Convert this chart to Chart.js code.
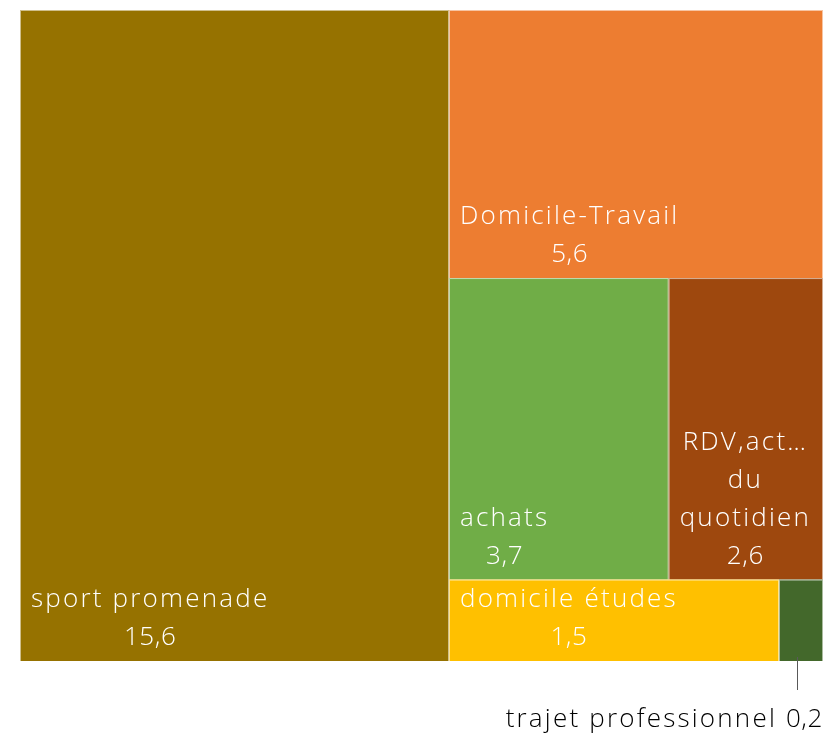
<!DOCTYPE html>
<html>
<head>
<meta charset="utf-8">
<script src="https://cdn.jsdelivr.net/npm/chart.js@4.4.1/dist/chart.umd.min.js"></script>
<style>
  html, body { margin: 0; padding: 0; background: #fff; }
  #wrap { width: 823px; height: 734px; }
</style>
</head>
<body>
<div id="wrap"><canvas id="tree"></canvas></div>
<script>
// motifs de déplacement et leur poids
const categories = ['sport promenade', 'Domicile-Travail', 'achats', 'RDV,activités du quotidien', 'domicile études', 'trajet professionnel'];
const values = [15.6, 5.6, 3.7, 2.6, 1.5, 0.2];
const colors = ['#967200', '#ED7D31', '#70AD47', '#9E480E', '#FFC000', '#43682B'];

const FONT = '300 26px "Open Sans"';
const NAME_SPACING = '2.2px';
const VALUE_SPACING = '0.6px';
const LINE_H = 38;
const PAD = 11;

// squarified treemap, dans un rectangle W x H
function squarify(vals, W, H) {
  const total = vals.reduce((a, b) => a + b, 0);
  const areas = vals.map(v => v / total * W * H);
  const out = [];
  let x = 0, y = 0, w = W, h = H, i = 0;
  while (i < areas.length) {
    const side = Math.min(w, h);
    const worst = r => {
      const s = r.reduce((a, b) => a + b, 0);
      return Math.max(side * side * Math.max(...r) / (s * s), s * s / (side * side * Math.min(...r)));
    };
    let row = [areas[i]], j = i + 1;
    while (j < areas.length && worst(row.concat(areas[j])) <= worst(row)) { row.push(areas[j]); j++; }
    const s = row.reduce((a, b) => a + b, 0);
    if (w >= h) {
      const cw = s / h; let cy = y;
      row.forEach(a => { const ch = a / cw; out.push({x: x, y: cy, w: cw, h: ch}); cy += ch; });
      x += cw; w -= cw;
    } else {
      const rh = s / w; let cx = x;
      row.forEach(a => { const rw = a / rh; out.push({x: cx, y: y, w: rw, h: rh}); cx += rw; });
      y += rh; h -= rh;
    }
    i = j;
  }
  return out;
}

function fmt(v) { return v.toFixed(1).replace('.', ','); }

function fitWord(ctx, word, maxW) {
  if (ctx.measureText(word).width <= maxW) return word;
  let s = word;
  while (s.length > 1 && ctx.measureText(s + '…').width > maxW) s = s.slice(0, -1);
  return s + '…';
}

function wrap(ctx, text, maxW) {
  const lines = [];
  let cur = '';
  text.split(' ').forEach(wd => {
    const test = cur ? cur + ' ' + wd : wd;
    if (ctx.measureText(test).width <= maxW) cur = test;
    else {
      if (cur) lines.push(cur);
      cur = fitWord(ctx, wd, maxW);
    }
  });
  if (cur) lines.push(cur);
  return lines;
}

const treemapPlugin = {
  id: 'treemap',
  beforeDatasetsDraw(chart) {
    const {ctx, chartArea: area, scales} = chart;
    const cells = squarify(values, area.width, area.height);
    ctx.save();
    cells.forEach((c, k) => {
      // passage en unités d'échelle (0..100) puis en pixels
      const x0 = scales.x.getPixelForValue(c.x / area.width * 100);
      const x1 = scales.x.getPixelForValue((c.x + c.w) / area.width * 100);
      const y0 = scales.y.getPixelForValue(c.y / area.height * 100);
      const y1 = scales.y.getPixelForValue((c.y + c.h) / area.height * 100);
      ctx.fillStyle = colors[k];
      ctx.fillRect(x0, y0, x1 - x0, y1 - y0);
      ctx.strokeStyle = 'rgba(255,255,255,0.55)';
      ctx.lineWidth = 1;
      ctx.strokeRect(x0 + 0.5, y0 + 0.5, x1 - x0 - 1, y1 - y0);

      ctx.font = FONT;
      ctx.textBaseline = 'middle';
      if (x1 - x0 < 80) {
        // étiquette à l'extérieur avec trait de rappel
        const cx = Math.round((x0 + x1) / 2) - 3.5;
        ctx.strokeStyle = '#595959';
        ctx.beginPath();
        ctx.moveTo(cx, y1 - 4);
        ctx.lineTo(cx, y1 + 29);
        ctx.stroke();
        ctx.fillStyle = '#000';
        ctx.textAlign = 'right';
        ctx.letterSpacing = VALUE_SPACING;
        const v = fmt(values[k]);
        const vw = ctx.measureText(v).width;
        ctx.fillText(v, area.right, y1 + 59);
        ctx.letterSpacing = NAME_SPACING;
        ctx.fillText(categories[k] + ' ', area.right - vw, y1 + 59);
        return;
      }
      ctx.letterSpacing = NAME_SPACING;
      const lines = wrap(ctx, categories[k], x1 - x0 - 2 * PAD);
      const widths = lines.map(l => ctx.measureText(l).width);
      ctx.letterSpacing = VALUE_SPACING;
      lines.push(fmt(values[k]));
      widths.push(ctx.measureText(lines[lines.length - 1]).width);
      const bw = Math.max(...widths);
      const cx = x0 + PAD + bw / 2;
      ctx.fillStyle = '#fff';
      ctx.textAlign = 'center';
      lines.forEach((l, n) => {
        ctx.letterSpacing = n === lines.length - 1 ? VALUE_SPACING : NAME_SPACING;
        ctx.fillText(l, cx, y1 - 23 - (lines.length - 1 - n) * LINE_H);
      });
    });
    ctx.restore();
  }
};

new Chart(document.getElementById('tree'), {
  type: 'scatter',
  data: {datasets: [{data: []}]},
  options: {
    responsive: true,
    maintainAspectRatio: false,
    animation: false,
    layout: {padding: {left: 20, top: 10, right: 0, bottom: 73}},
    scales: {
      x: {type: 'linear', min: 0, max: 100, display: false},
      y: {type: 'linear', min: 0, max: 100, reverse: true, display: false}
    },
    plugins: {legend: {display: false}, tooltip: {enabled: false}}
  },
  plugins: [treemapPlugin]
});
</script>
</body>
</html>
